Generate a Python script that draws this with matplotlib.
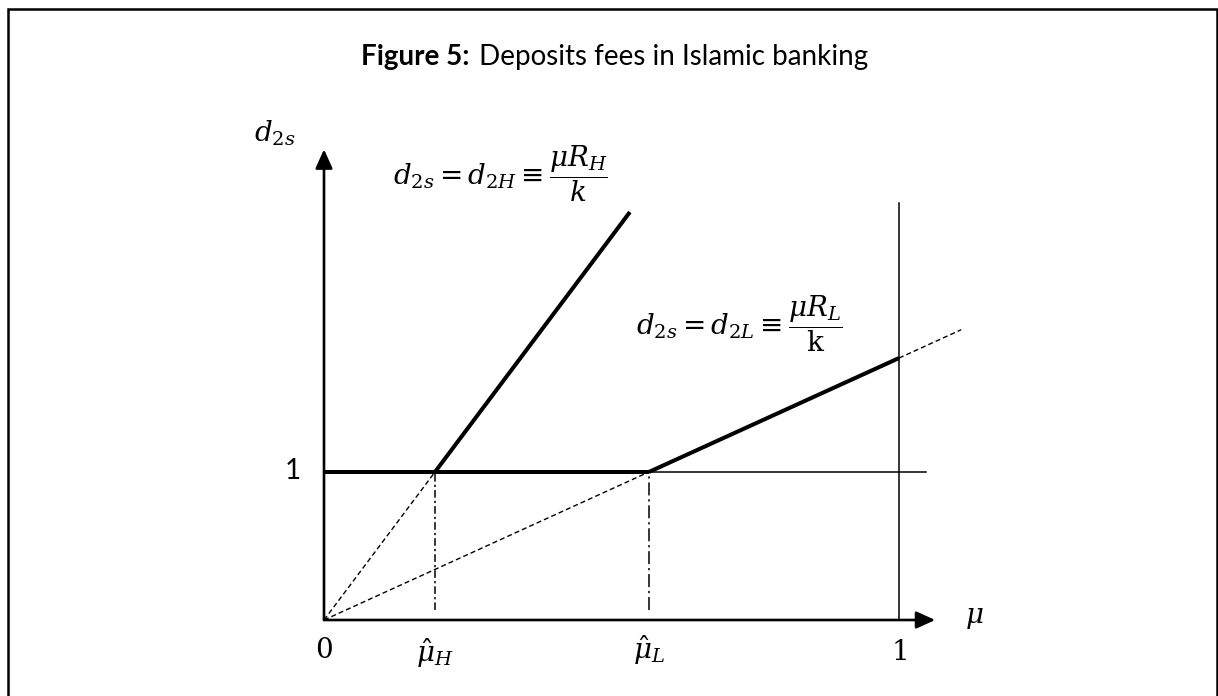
import matplotlib
matplotlib.use("Agg")
import matplotlib.pyplot as plt
from matplotlib.patches import Rectangle

# Threshold values of mu and the extent of the drawn segments
mu_hat_H = 0.193          # where d_2H reaches 1
mu_hat_L = 0.565          # where d_2L reaches 1
mu_H_end = 0.532          # end of the solid d_2H segment
mu_L_dash_end = 1.108     # end of the dashed d_2L extension
y_axis_top = 3.18
x_axis_end = 1.063
hline_end = 1.047
vline_top = 2.82
dashdot_bottom = 0.068

W, H = 1218, 696
DPI = 100
plt.rcParams["mathtext.fontset"] = "dejavuserif"
fig = plt.figure(figsize=(W / DPI, H / DPI), dpi=DPI)
fig.patch.set_facecolor("white")

# data axes spanning the whole canvas: mu 0..1 -> 324..899 px, d 0..1 -> 620..472 px (from top)
ax = fig.add_axes([0, 0, 1, 1])
ax.axis("off")
px_x, px_y = 575.0, 148.0
x0_px, y0_px = 324.0, H - 620.0
ax.set_xlim(-x0_px / px_x, (W - x0_px) / px_x)
ax.set_ylim(-y0_px / px_y, (H - y0_px) / px_y)

k = "k"
# axes with arrow heads
arrow_style = "-|>,head_length=1.15,head_width=0.52"
ax.annotate("", xy=(0, y_axis_top), xytext=(0, 0),
            arrowprops=dict(arrowstyle=arrow_style, color=k, lw=1.9,
                            shrinkA=0, shrinkB=0, mutation_scale=10))
ax.annotate("", xy=(x_axis_end, 0), xytext=(0, 0),
            arrowprops=dict(arrowstyle=arrow_style, color=k, lw=1.9,
                            shrinkA=0, shrinkB=0, mutation_scale=10))

def d_line(mu, mu_hat):
    return [m / mu_hat for m in mu]

dash = (0, (3.6, 2.2))
# rays through the origin (dashed part below the threshold)
ax.plot([0, mu_hat_H], d_line([0, mu_hat_H], mu_hat_H), color=k, lw=1.0, linestyle=dash)
ax.plot([0, mu_hat_L], d_line([0, mu_hat_L], mu_hat_L), color=k, lw=1.0, linestyle=dash)
ax.plot([1, mu_L_dash_end], d_line([1, mu_L_dash_end], mu_hat_L), color=k, lw=1.0,
        linestyle=dash)

# solid fee schedules
ax.plot([mu_hat_H, mu_H_end], d_line([mu_hat_H, mu_H_end], mu_hat_H), color=k, lw=2.9,
        solid_capstyle="butt")
ax.plot([mu_hat_L, 1], d_line([mu_hat_L, 1], mu_hat_L), color=k, lw=2.9,
        solid_capstyle="butt")
ax.plot([0, mu_hat_L], [1, 1], color=k, lw=2.9, solid_capstyle="butt")
ax.plot([mu_hat_L, hline_end], [1, 1], color=k, lw=1.1)
ax.plot([1, 1], [0, vline_top], color=k, lw=1.1)

# guides down to the thresholds
ax.plot([mu_hat_H, mu_hat_H], [dashdot_bottom, 1], color=k, lw=1.1,
        linestyle=(0, (5, 2, 1.5, 2)))
ax.plot([mu_hat_L, mu_hat_L], [dashdot_bottom, 1], color=k, lw=1.1,
        linestyle=(0, (8.5, 2.5, 1.5, 2.5)))

def px_to_data(xp, yp_top):
    return (xp - x0_px) / px_x, (H - yp_top - y0_px) / px_y

math_fs = 20
tx, ty = px_to_data(275, 133)
ax.text(tx, ty, r"$d_{2s}$", fontsize=math_fs, ha="center", va="center")
tx, ty = px_to_data(500, 174)
ax.text(tx, ty, r"$d_{2s} = d_{2H} \equiv \dfrac{\mu R_H}{k}$", fontsize=math_fs,
        ha="center", va="center")
tx, ty = px_to_data(739, 324)
ax.text(tx, ty, r"$d_{2s} = d_{2L} \equiv \dfrac{\mu R_L}{\mathrm{k}}$", fontsize=math_fs,
        ha="center", va="center")

tx, ty = px_to_data(293, 471)
ax.text(tx, ty, "1", fontsize=20, family="Lato", ha="center", va="center")

x_ticks = [0, mu_hat_H, mu_hat_L, 1]
x_tick_labels = [r"$\mathrm{0}$", r"$\hat{\mu}_H$", r"$\hat{\mu}_L$", r"$\mathrm{1}$"]
x_tick_y = [650, 653, 650, 652]
for xv, lab, yp in zip(x_ticks, x_tick_labels, x_tick_y):
    _, ty = px_to_data(0, yp)
    ax.text(xv, ty, lab, fontsize=math_fs, ha="center", va="center")
tx, ty = px_to_data(974, 617)
ax.text(tx, ty, r"$\mu$", fontsize=math_fs, ha="center", va="center")

# title: bold lead-in followed by regular text
ty_fig = (H - 65) / H
fig.text(470 / W, ty_fig, "Figure 5:", fontsize=20, family="Lato", weight="bold",
         ha="right", va="baseline")
fig.text(472 / W, ty_fig, " Deposits fees in Islamic banking", fontsize=20,
         family="Lato", ha="left", va="baseline")

# frame around the figure
fig.patches.append(Rectangle((7.5 / W, -0.05), (1217 - 7.5) / W, (H - 9) / H + 0.05,
                             transform=fig.transFigure, fill=False, lw=1.8,
                             edgecolor=k, clip_on=False))

fig.savefig("out.png", dpi=DPI, facecolor="white")
